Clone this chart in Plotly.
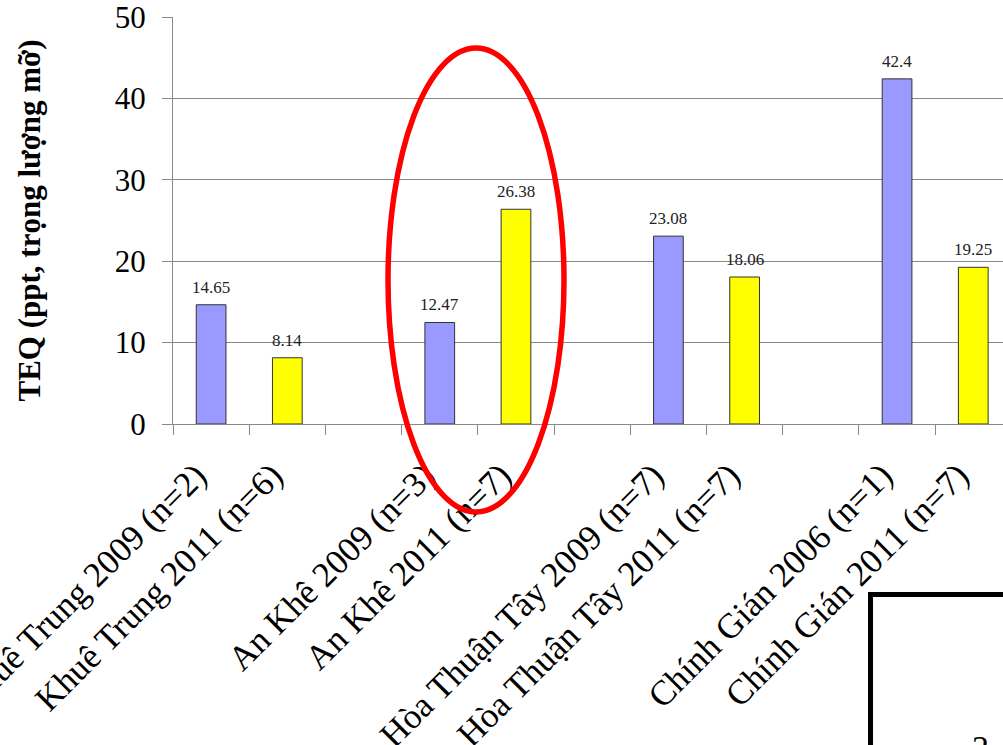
import plotly.graph_objects as go

# ---- data ----
early_labels = ["Khuê Trung 2009 (n=2)", "An Khê 2009 (n=3)",
                "Hòa Thuận Tây 2009 (n=7)", "Chính Gián 2006 (n=1)"]
late_labels = ["Khuê Trung 2011 (n=6)", "An Khê 2011 (n=7)",
               "Hòa Thuận Tây 2011 (n=7)", "Chính Gián 2011 (n=7)"]
early_teq = [14.65, 12.47, 23.08, 42.4]
late_teq = [8.14, 26.38, 18.06, 19.25]
y_ticks = [0, 10, 20, 30, 40, 50]
y_title = "TEQ (ppt, trọng lượng mỡ)"

FONT = "Liberation Serif, Times New Roman, serif"
W, H = 1003, 745
L, T, B = 173, 17, 321

early_x = [3 * i for i in range(len(early_teq))]
late_x = [3 * i + 1 for i in range(len(late_teq))]

fig = go.Figure()
fig.add_trace(go.Bar(x=early_x, y=early_teq, width=0.39,
                     marker=dict(color="#9999FF", line=dict(color="#333333", width=1)),
                     showlegend=False, hoverinfo="skip"))
fig.add_trace(go.Bar(x=late_x, y=late_teq, width=0.39,
                     marker=dict(color="#FFFF00", line=dict(color="#333333", width=1)),
                     showlegend=False, hoverinfo="skip"))

annotations = []
for xs, vals in ((early_x, early_teq), (late_x, late_teq)):
    for x, v in zip(xs, vals):
        annotations.append(dict(x=x, y=v, xref="x", yref="y", text=str(v),
                                showarrow=False, yanchor="bottom", yshift=6,
                                font=dict(family=FONT, size=17, color="#222222")))

annotations.append(dict(x=(29 - L) / 830, y=0.5, xref="paper", yref="paper", text="<b>" + y_title + "</b>",
                        textangle=-90, showarrow=False, xanchor="center", yanchor="middle",
                        font=dict(family=FONT, size=31, color="black")))
# partially visible glyph at bottom right
annotations.append(dict(x=(980 - L) / 830, y=(424 - 727) / 407, xref="paper", yref="paper",
                        text="2", showarrow=False, xanchor="center", yanchor="top",
                        font=dict(family=FONT, size=34, color="black")))

tickvals = early_x + late_x
ticktext = early_labels + late_labels

fig.update_layout(
    width=W, height=H,
    margin=dict(l=L, r=0, t=T, b=B, pad=0, autoexpand=False),
    plot_bgcolor="white", paper_bgcolor="white",
    barmode="overlay",
    annotations=annotations,
    xaxis=dict(range=[-0.5, 10.39], tickmode="array", tickvals=tickvals, ticktext=ticktext,
               tickangle=-45, ticks="", showgrid=False, showline=True, linecolor="#888888",
               linewidth=1, zeroline=False, ticklabelstandoff=16, ticklabelshift=-15,
               ticklabeloverflow="allow", automargin=False,
               tickfont=dict(family=FONT, size=35, color="black"),
               minor=dict(tickmode="linear", tick0=-0.5, dtick=1, ticks="outside",
                          ticklen=10, tickcolor="#888888", tickwidth=1, showgrid=False)),
    yaxis=dict(range=[0, 50], tickmode="array", tickvals=y_ticks, ticks="outside", ticklen=10,
               tickcolor="#888888", showgrid=True, gridcolor="#888888", gridwidth=1,
               showline=True, linecolor="#888888", zeroline=False, ticklabelstandoff=10,
               ticklabeloverflow="allow", automargin=False,
               tickfont=dict(family=FONT, size=31, color="black")),
    shapes=[
        dict(type="circle", xref="paper", yref="paper",
             x0=(388 - L) / 830, x1=(564 - L) / 830,
             y0=(424 - 512) / 407, y1=(424 - 48) / 407,
             line=dict(color="#FF0000", width=5.5)),
        dict(type="rect", xref="paper", yref="paper",
             x0=(870.5 - L) / 830, x1=1.2,
             y0=-1.2, y1=(424 - 594.5) / 407,
             line=dict(color="black", width=5)),
    ],
)

fig.write_html("out.html", config={"displayModeBar": False},
               post_script="document.body.style.margin='0';document.body.style.overflow='hidden';")
